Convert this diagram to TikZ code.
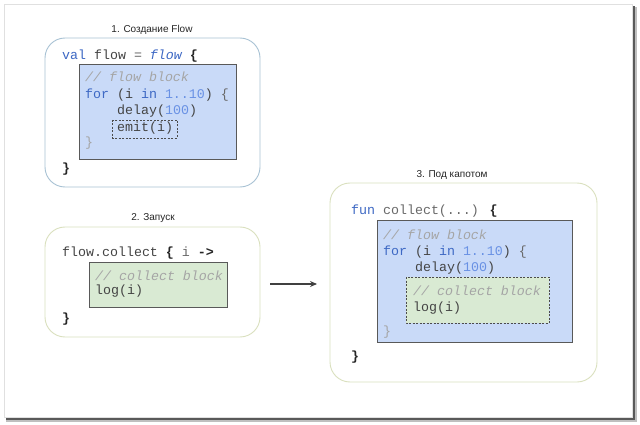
\documentclass[tikz,border=0pt]{standalone}
\usepackage{fontspec}
\setmainfont{Liberation Sans}
\newfontfamily\codefont{Liberation Mono}[Ligatures=NoCommon]
\usetikzlibrary{arrows.meta}
\definecolor{kw}{RGB}{61,104,196}
\definecolor{num}{RGB}{105,145,228}
\definecolor{cmt}{RGB}{165,165,165}
\definecolor{txt}{RGB}{68,68,68}
\definecolor{punct}{RGB}{105,105,105}
\definecolor{blockblue}{HTML}{C9DAF8}
\definecolor{blockgreen}{HTML}{D9EAD3}
\definecolor{framebluegray}{RGB}{168,194,212}
\definecolor{frameolive}{RGB}{218,224,190}
\newcommand{\kwd}[1]{\textcolor{kw}{#1}}
\newcommand{\numl}[1]{\textcolor{num}{#1}}
\newcommand{\cmtl}[1]{\textcolor{cmt}{\itshape #1}}
\newcommand{\brc}[1]{\textcolor{black!85}{\bfseries #1}}
\begin{document}
\begin{tikzpicture}[x=1pt,y=-1pt,
  code/.style={anchor=base west, inner sep=0pt, font=\codefont\fontsize{13.3}{16}\selectfont, text=txt},
  title/.style={anchor=base, inner sep=0pt, font=\fontsize{10}{12}\selectfont, text=black!85},
  stage/.style={draw, line width=0.9pt, rounded corners=20pt},
  blockbox/.style={draw=black!65, line width=0.8pt},
  callbox/.style={draw=black!70, line width=0.7pt, dash pattern=on 2pt off 1.5pt},
  flowarrow/.style={draw=black!75, line width=1.4pt, -{Stealth[length=7pt,width=6pt]}}
]
\useasboundingbox (0,0) rectangle (640,425);

% sheet with its drop shadow
\fill[black!25] (6,7) rectangle (637,422);
\fill[black!65] (6,6) rectangle (635,420);
\filldraw[fill=white, draw=black!12] (4,4) rectangle (632,417);

% ---- 1. flow builder ----
\node[title] (t1) at (152,33) {1. Создание Flow};
\draw[stage, draw=framebluegray] (45,38) rectangle (260,187);
\filldraw[blockbox, fill=blockblue] (79,64) rectangle (236,159);
\draw[callbox] (112,120) rectangle (177,138);
\node[code] (a1) at (62,59.5) {\kwd{val} flow \textcolor{punct}{=} {\color{kw}\itshape flow} \brc{\{}};
\node[code] (a2) at (85,82) {\cmtl{// flow block}};
\node[code] (a3) at (85,98.5) {\kwd{for} (i \kwd{in} \numl{1..10}) \textcolor{punct}{\{}};
\node[code] (a4) at (117,115) {delay(\numl{100})};
\node[code] (a5) at (117,131.5) {emit(i)};
\node[code] (a6) at (85,147) {\textcolor{cmt}{\}}};
\node[code] (a7) at (62,172) {\brc{\}}};

% ---- 2. collecting ----
\node[title] (t2) at (153,220) {2. Запуск};
\draw[stage, draw=frameolive] (45,227) rectangle (260,337);
\filldraw[blockbox, fill=blockgreen] (89,262) rectangle (227,307);
\node[code] (b1) at (62,256) {flow.collect \brc{\{} \textcolor{punct}{i} \brc{->}};
\node[code] (b2) at (95,280) {\cmtl{// collect block}};
\node[code] (b3) at (95,294.5) {log(i)};
\node[code] (b4) at (62,322) {\brc{\}}};

% ---- 3. under the hood ----
\node[title] (t3) at (452,178) {3. Под капотом};
\draw[stage, draw=frameolive] (330,183) rectangle (597,382);
\filldraw[blockbox, fill=blockblue] (377,220) rectangle (572,342);
\filldraw[callbox, fill=blockgreen] (406,277) rectangle (549,323);
\node[code] (c1) at (351,214) {\kwd{fun} \textcolor{punct}{collect(...)} \brc{\{}};
\node[code] (c2) at (383,239) {\cmtl{// flow block}};
\node[code] (c3) at (383,255) {\kwd{for} (i \kwd{in} \numl{1..10}) \textcolor{punct}{\{}};
\node[code] (c4) at (415,271) {delay(\numl{100})};
\node[code] (c5) at (413,295) {\cmtl{// collect block}};
\node[code] (c6) at (413,311) {log(i)};
\node[code] (c7) at (383,335) {\textcolor{cmt}{\}}};
\node[code] (c8) at (351,360) {\brc{\}}};

% transition arrow
\coordinate (arrS) at (270,284);
\coordinate (arrE) at (317,284);
\draw[flowarrow] (arrS) -- (arrE);
\end{tikzpicture}
\end{document}
